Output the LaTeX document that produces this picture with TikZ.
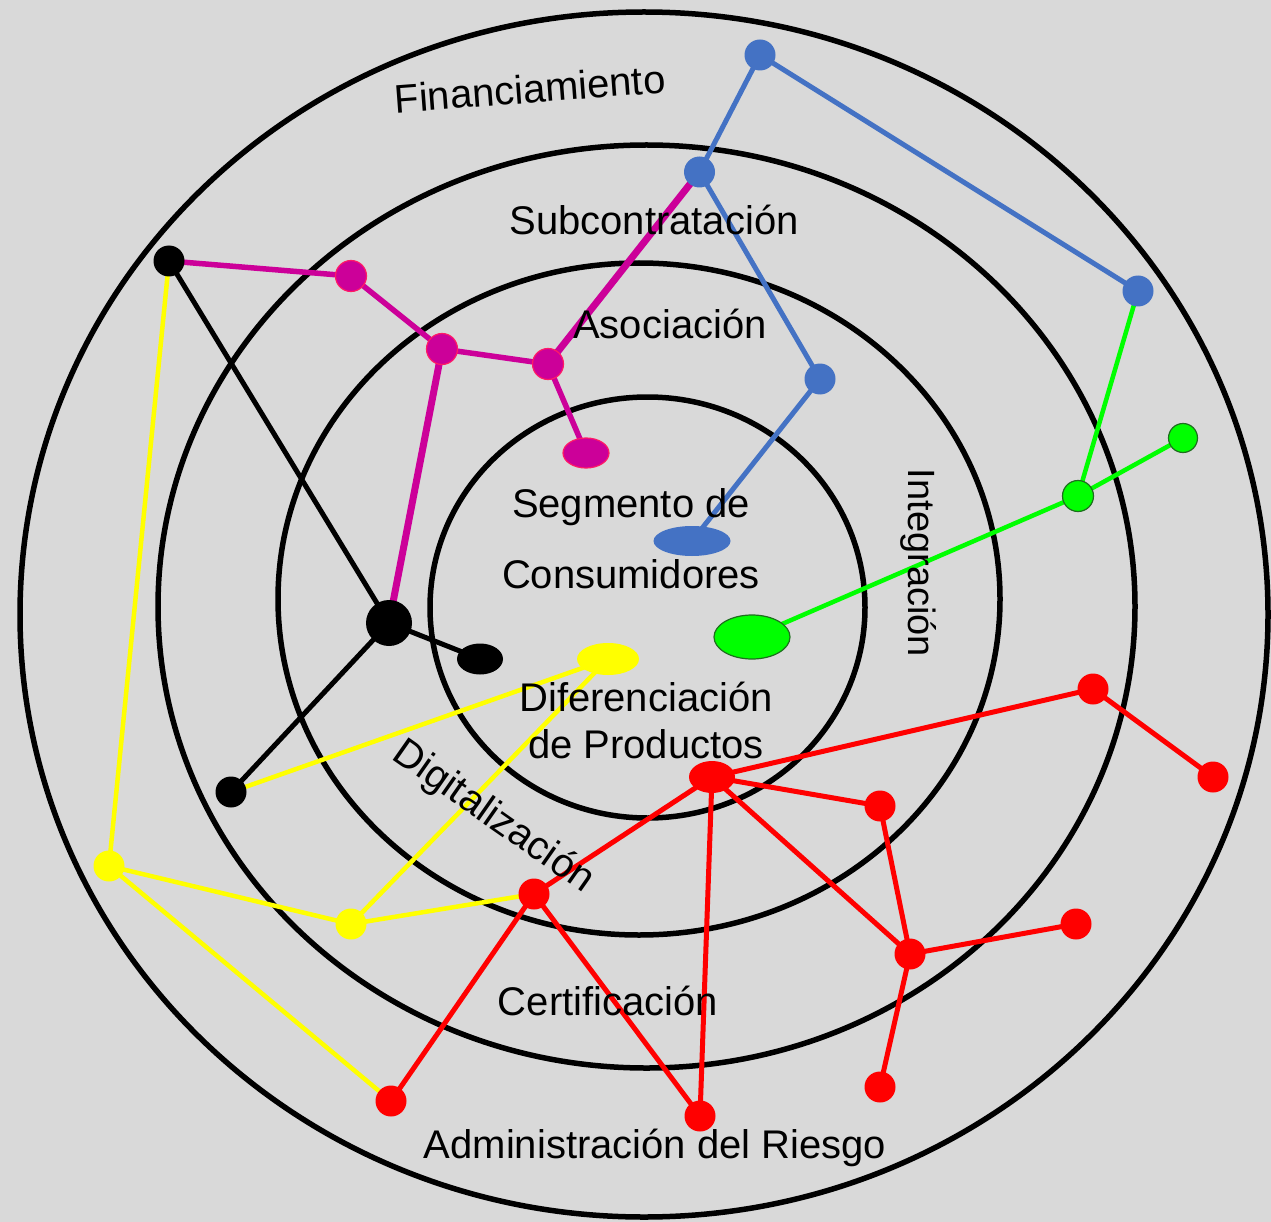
\documentclass[tikz,border=0pt]{standalone}
\usepackage{fontspec}
\setmainfont{Liberation Sans}
\usetikzlibrary{shapes.geometric}
\pgfdeclarelayer{bg}
\pgfdeclarelayer{edges}
\pgfsetlayers{bg,edges,main}
\definecolor{bgc}{HTML}{D9D9D9}
\definecolor{cblue}{HTML}{4472C4}
\definecolor{cmag}{HTML}{CC0099}
\definecolor{cmagb}{HTML}{FF1A66}
\definecolor{cgreen}{HTML}{00FF00}
\definecolor{cgreenb}{HTML}{1E6E1E}
\definecolor{cyel}{HTML}{FFFF00}
\definecolor{cred}{HTML}{FF0000}
\begin{document}
\begin{tikzpicture}[x=1pt,y=-1pt,
  ring/.style={draw=black, line width=5.5pt},
  lbl/.style={font=\fontsize{40}{48}\selectfont, inner sep=0pt, anchor=base},
  dot/.style={circle, inner sep=0pt, minimum size=31pt},
  oval/.style={ellipse, inner sep=0pt},
  bluedot/.style={dot, fill=cblue},
  magdot/.style={dot, fill=cmag, draw=cmagb, line width=1.2pt},
  blackdot/.style={dot, fill=black},
  yeldot/.style={dot, fill=cyel},
  reddot/.style={dot, fill=cred},
  greendot/.style={dot, fill=cgreen, draw=cgreenb, line width=1.2pt},
  eblue/.style={draw=cblue, line width=5pt},
  emag/.style={draw=cmag, line width=5.5pt},
  emagthick/.style={draw=cmag, line width=7pt},
  eblack/.style={draw=black, line width=5pt},
  eyel/.style={draw=cyel, line width=4.5pt},
  ered/.style={draw=cred, line width=5pt},
  egreen/.style={draw=cgreen, line width=4.5pt}]

\begin{pgfonlayer}{bg}
  \fill[bgc] (0,0) rectangle (1271,1222);
  \useasboundingbox (0,0) rectangle (1271,1222);
  \path[ring] (644,614.5) ellipse [x radius=624, y radius=602.5];
  \path[ring] (646.5,606.5) ellipse [x radius=488.5, y radius=461.5];
  \path[ring] (639,599) ellipse [x radius=361, y radius=336];
  \path[ring] (647.5,607.5) ellipse [x radius=217.5, y radius=210.5];
\end{pgfonlayer}

% blue
\node[bluedot] (b1) at (760,55) {};
\node[bluedot] (b2) at (699.5,172) {};
\node[bluedot] (b3) at (1138,291) {};
\node[bluedot] (b4) at (820,379) {};
\node[oval, fill=cblue, minimum width=77pt, minimum height=30pt] (be) at (692,541) {};
% magenta
\node[magdot] (m1) at (351,276) {};
\node[magdot] (m2) at (442,349) {};
\node[magdot] (m3) at (548,364) {};
\node[oval, fill=cmag, draw=cmagb, line width=1.2pt, minimum width=46pt, minimum height=30pt] (me) at (586,453) {};
% black
\node[blackdot] (k1) at (169,261) {};
\node[blackdot, minimum size=46pt] (k2) at (389,623) {};
\node[blackdot] (k3) at (231,792) {};
\node[oval, fill=black, minimum width=46pt, minimum height=31pt] (ke) at (480,659) {};
% yellow
\node[yeldot] (y1) at (109,866) {};
\node[yeldot] (y2) at (351,924) {};
\node[oval, fill=cyel, minimum width=62pt, minimum height=32pt] (ye) at (608,659) {};
% green
\node[oval, fill=cgreen, draw=cgreenb, line width=1.2pt, minimum width=76pt, minimum height=44pt] (ge) at (752,637) {};
\node[greendot] (g1) at (1078,496) {};
\node[greendot, minimum size=29pt] (g2) at (1183,438) {};
% red
\node[oval, fill=cred, minimum width=46pt, minimum height=32pt] (re) at (712,777) {};
\node[reddot] (r1) at (1093,689) {};
\node[reddot] (r2) at (1213,777) {};
\node[reddot] (r3) at (880,806) {};
\node[reddot] (r4) at (910,954) {};
\node[reddot] (r5) at (1076,924) {};
\node[reddot] (r6) at (880,1087) {};
\node[reddot] (r7) at (700,1116) {};
\node[reddot] (r8) at (534,894) {};
\node[reddot] (r9) at (391,1101) {};

\begin{pgfonlayer}{edges}
  % blue
  \draw[eblue] (b1.center) -- (b2.center);
  \draw[eblue] (b1.center) -- (b3.center);
  \draw[eblue] (b2.center) -- (b4.center);
  \draw[eblue] (b4.center) -- (be.center);
  % magenta
  \draw[emag] (k1.center) -- (m1.center);
  \draw[emag] (m1.center) -- (m2.center);
  \draw[emag] (m2.center) -- (m3.center);
  \draw[emag] (m3.center) -- (me.center);
  \draw[emagthick] (m3.center) -- (b2.center);
  \draw[emagthick] (m2.center) -- (k2.center);
  % black
  \draw[eblack] (k1.center) -- (k2.center);
  \draw[eblack] (k2.center) -- (ke.center);
  \draw[eblack] (k2.center) -- (k3.center);
  % yellow
  \draw[eyel] (k1.center) -- (y1.center);
  \draw[eyel] (y1.center) -- (y2.center);
  \draw[eyel] (y1.center) -- (r9.center);
  \draw[eyel] (y2.center) -- (ye.center);
  \draw[eyel] (y2.center) -- (r8.center);
  \draw[eyel] (k3.center) -- (ye.center);
  % green
  \draw[egreen] (ge.center) -- (g1.center);
  \draw[egreen] (g1.center) -- (g2.center);
  \draw[egreen] (g1.center) -- (b3.center);
  % red
  \draw[ered] (re.center) -- (r1.center);
  \draw[ered] (r1.center) -- (r2.center);
  \draw[ered] (re.center) -- (r3.center);
  \draw[ered] (r3.center) -- (r4.center);
  \draw[ered] (re.center) -- (r4.center);
  \draw[ered] (r4.center) -- (r5.center);
  \draw[ered] (r4.center) -- (r6.center);
  \draw[ered] (re.center) -- (r7.center);
  \draw[ered] (re.center) -- (r8.center);
  \draw[ered] (r8.center) -- (r7.center);
  \draw[ered] (r8.center) -- (r9.center);
\end{pgfonlayer}

% labels
\node[lbl, rotate=4.3] (tfin) at (531,103) {Financiamiento};
\node[lbl] (tsub) at (654,235) {Subcontratación};
\node[lbl] (taso) at (670,338) {Asociación};
\node[lbl] (tseg) at (631,517) {Segmento de};
\node[lbl] (tcon) at (631,588) {Consumidores};
\node[lbl, font=\fontsize{38}{46}\selectfont, rotate=-90] (tint) at (908,563) {Integración};
\node[lbl] (tdif) at (646,711) {Diferenciación};
\node[lbl] (tpro) at (646,758) {de Productos};
\node[lbl, rotate=-35] (tdig) at (487,826) {Digitalización};
\node[lbl] (tcer) at (608,1015) {Certificación};
\node[lbl] (tadm) at (655,1158) {Administración del Riesgo};
\end{tikzpicture}
\end{document}
